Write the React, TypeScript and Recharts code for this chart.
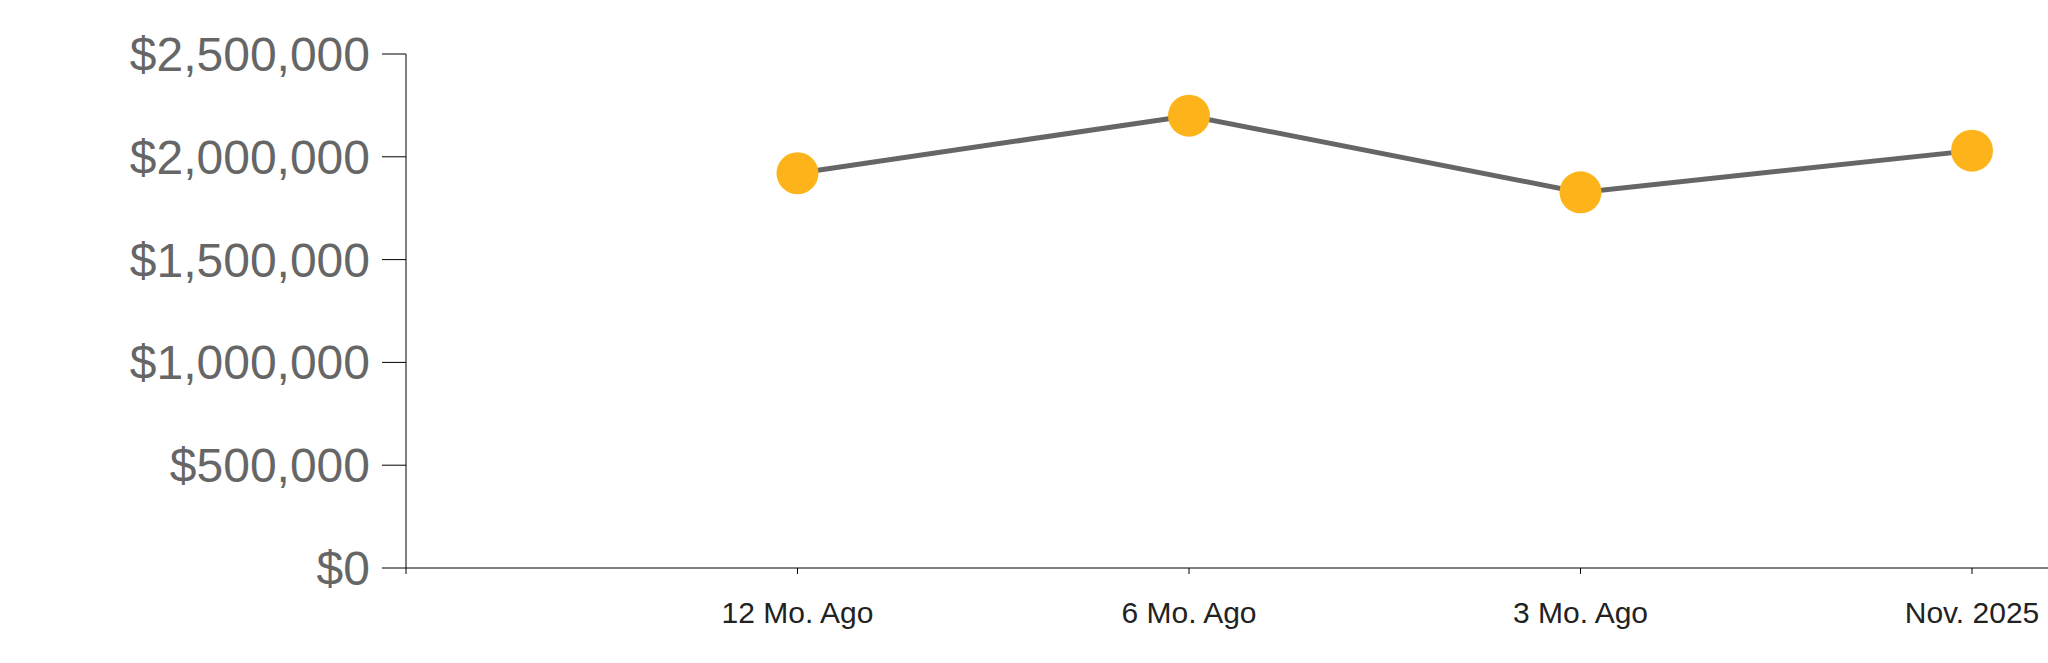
import React from "react";
import { LineChart, Line, XAxis, YAxis } from "recharts";

const categories = ["", "12 Mo. Ago", "6 Mo. Ago", "3 Mo. Ago", "Nov. 2025"];
const values: (number | null)[] = [null, 1920000, 2200000, 1827000, 2030000];
const yTicks = [0, 500000, 1000000, 1500000, 2000000, 2500000];

const data = categories.map((c, i) => ({ name: c, value: values[i] }));

const FONT = "'Liberation Sans', Arial, sans-serif";

export default function App() {
  return (
    <div
      style={{
        position: "absolute",
        left: 0,
        top: 0,
        width: 2048,
        height: 648,
        overflow: "hidden",
      }}
    >
      <LineChart
        width={2048}
        height={648}
        data={data}
        margin={{ top: 54, right: 0, bottom: 0, left: 8 }}
      >
        <XAxis
          dataKey="name"
          interval={0}
          height={80}
          padding={{ left: 0, right: 76 }}
          tickSize={6}
          tickMargin={28}
          axisLine={{ stroke: "#000", strokeWidth: 1 }}
          tickLine={{ stroke: "#000", strokeWidth: 1 }}
          tick={{ fill: "#222", fontSize: 30, fontFamily: FONT }}
        />
        <YAxis
          width={398}
          domain={[0, 2500000]}
          ticks={yTicks}
          interval={0}
          tickSize={24}
          tickMargin={12}
          axisLine={{ stroke: "#000", strokeWidth: 1 }}
          tickLine={{ stroke: "#000", strokeWidth: 1 }}
          tick={{ fill: "#666", fontSize: 48, fontFamily: FONT }}
          tickFormatter={(v: number) => `$${v.toLocaleString("en-US")}`}
        />
        <Line
          type="linear"
          dataKey="value"
          stroke="#666"
          strokeWidth={5}
          dot={{ r: 21, fill: "#FCB41A", stroke: "none", strokeWidth: 0 }}
          activeDot={false}
          isAnimationActive={false}
        />
      </LineChart>
    </div>
  );
}
